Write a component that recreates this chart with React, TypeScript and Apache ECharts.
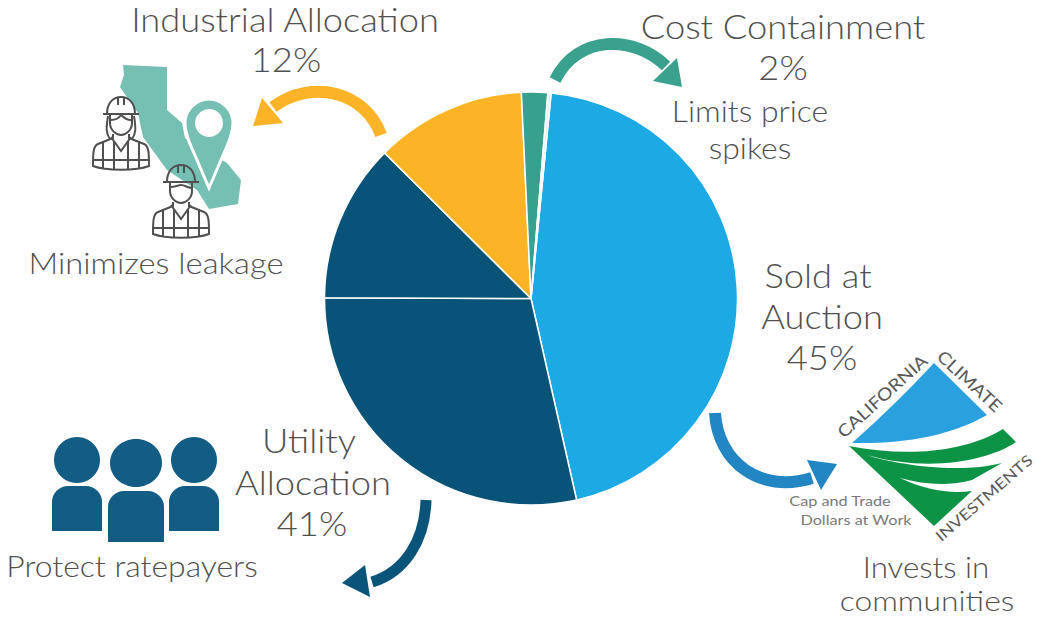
import React, { useEffect, useRef } from "react";
import * as echarts from "echarts";

// Data (percent of the circle, clockwise from the top of the Auction slice)
const sliceNames = ["Sold at Auction", "Utility Allocation A", "Utility Allocation B", "Industrial Allocation", "Cost Containment", "Other"];
const sliceValues = [44.9, 28.6, 12.4, 11.8, 2.05, 0.25];
const sliceColors = ["#1daae4", "#0a5378", "#0a5378", "#fbb425", "#37a08f", "#e6eef2"];

const FONT = "Lato";
const INK = "#505050";

const shapes: Record<string, string> = {
  california:
    "M123,65 L167,67 L167,110 L182,123 L185,138 L227,163 L241,180 L238,204 L209,209 L197,190 L167,170 L143,137 L138,113 L120,87 L124,75 Z",
  pin: "M209,99 C222,99 233,110 233,123 C233,135 228,144 224,153 L209,188 L194,153 C190,144 185,135 185,123 C185,110 196,99 209,99 Z",
  arrowY: "M381,135 C366,92 312,78 273,107",
  arrowT: "M555,80 C578,34 634,35 666,66",
  arrowB: "M715,413 C718,462 760,494 812,478",
  arrowD: "M426,500 C425,540 405,572 372,582",
  logoBlue: "M934,363 L987,415 C950,436 905,444 852,443 Q895,405 934,363 Z",
  logoGreen1:
    "M849,446 C900,456 960,455 1003,429 L1016,442 C990,460 930,473 867,455 C890,463 955,475 1002,463 L972,480 C950,486 925,485 900,478 C925,490 950,494 972,491 L934,526 Z",
  worker:
    "M-18,0 L18,0 M-14,0 C-14,-11 -8,-17 0,-17 C8,-17 14,-11 14,0 M-3,-17 L-3,-9 M3,-17 L3,-9 M-11,0 L-11,9 C-11,16 -5,21 0,21 C5,21 11,16 11,9 L11,0 M-8,20 L-8,24 L-23,30 C-28,32 -28,40 -28,52 C-15,57 15,57 28,52 C28,40 28,32 23,30 L8,24 L8,20 M-18,27 L-18,54 M18,27 L18,54 M-10,23 L0,37 L10,23 M-7,27 L-7,55 M7,27 L7,55 M-28,46 L28,46",
  hairMale: "M-11,5 C-5,5 -3,3 0,3 C4,3 7,6 11,6",
  hairFemale: "M-10,6 C-5,6 -2,4 0,1 C3,4 6,6 10,6 M-13,2 C-15,14 -15,20 -11,25 M13,2 C15,14 15,20 11,25",
};
Object.entries(shapes).forEach(([name, d]) => {
  echarts.graphic.registerShape(name, echarts.graphic.extendPath(d, {}));
});

const txt = (text: string, x: number, y: number, size = 33, color = INK, extra: any = {}) => {
  const { style, scaleX = 1.1, ...rest } = extra;
  return {
    type: "text",
    x,
    y,
    scaleX,
    silent: true,
    ...rest,
    style: { text, fontFamily: FONT, fontWeight: 300, fontSize: size, fill: color, align: "center", verticalAlign: "middle", ...(style || {}) },
  };
};

const arc = (type: string, color: string, width = 12) => ({
  type,
  x: 0,
  y: 0,
  style: { fill: "none", stroke: color, lineWidth: width },
});
const head = (pts: number[][], color: string) => ({ type: "polygon", shape: { points: pts }, style: { fill: color } });
const circle = (cx: number, cy: number, r: number, fill: string) => ({ type: "circle", shape: { cx, cy, r }, style: { fill } });
const body = (x: number, y: number, width: number, height: number) => ({
  type: "rect",
  shape: { x, y, width, height, r: [16, 16, 0, 0] },
  style: { fill: "#135d84" },
});
const stroke = (type: string, x: number, y: number) => ({ type, x, y, style: { fill: "none", stroke: "#505050", lineWidth: 2 } });

const graphics: any[] = [
  txt("Industrial Allocation", 285, 19),
  txt("12%", 286, 59),
  txt("Cost Containment", 783, 26),
  txt("2%", 783, 67),
  txt("Limits price", 750, 111, 29),
  txt("spikes", 750, 148, 29),
  txt("Sold at", 818, 275),
  txt("Auction", 822, 316),
  txt("45%", 822, 357),
  txt("Utility", 309, 440),
  txt("Allocation", 313, 482),
  txt("41%", 312, 523),
  txt("Protect ratepayers", 132, 566, 29),
  txt("Minimizes leakage", 156, 263, 29, INK, { scaleX: 1.13 }),
  txt("Invests in", 926, 566, 29, INK, { scaleX: 1.08 }),
  txt("communities", 927, 600, 27, INK, { scaleX: 1.18 }),
  // Arrows
  arc("arrowY", "#fbb427"),
  head([[262, 98], [283, 123], [253, 126]], "#fbb427"),
  arc("arrowT", "#3aa18e"),
  head([[677, 58], [682, 87], [653, 81]], "#3aa18e"),
  arc("arrowB", "#2286c3"),
  head([[807, 460], [837, 464], [821, 490]], "#2286c3"),
  arc("arrowD", "#0b5479", 11),
  head([[365, 565], [370, 597], [342, 583]], "#0b5479"),
  // California with pin and workers
  { type: "california", x: 0, y: 0, style: { fill: "#76bfb3" } },
  { type: "pin", x: 0, y: 0, style: { fill: "#76bfb3", stroke: "#fff", lineWidth: 3 } },
  circle(209, 123, 14, "#fff"),
  stroke("worker", 121, 114),
  stroke("hairFemale", 121, 114),
  stroke("worker", 181, 182),
  stroke("hairMale", 181, 182),
  // Ratepayers
  circle(77, 460, 23, "#135d84"),
  { type: "ellipse", shape: { cx: 136, cy: 463, rx: 26, ry: 24 }, style: { fill: "#135d84" } },
  circle(194, 460, 23, "#135d84"),
  body(52, 486, 50, 45),
  body(108, 491, 56, 51),
  body(169, 486, 50, 45),
  // Climate investments logo
  { type: "logoBlue", x: 0, y: 0, style: { fill: "#2aa0de" } },
  { type: "logoGreen1", x: 0, y: 0, style: { fill: "#0d9345" } },
  txt("CALIFORNIA", 882, 396, 17, "#58595b", { scaleX: 1.15, rotation: (42 * Math.PI) / 180, style: { fontWeight: 400 } }),
  txt("CLIMATE", 970, 381, 17, "#58595b", { scaleX: 1.15, rotation: (-43 * Math.PI) / 180, style: { fontWeight: 400 } }),
  txt("INVESTMENTS", 984, 498, 15, "#58595b", { scaleX: 1.2, rotation: (41 * Math.PI) / 180, style: { fontWeight: 400 } }),
  txt("Cap and Trade", 840, 501, 13, "#7a7a7a", { scaleX: 1.25, style: { fontWeight: 400 } }),
  txt("Dollars at Work", 856, 520, 13, "#7a7a7a", { scaleX: 1.25, style: { fontWeight: 400 } }),
];

export default function App() {
  const ref = useRef<HTMLDivElement>(null);
  useEffect(() => {
    const chart = echarts.init(ref.current!, undefined, { renderer: "svg" });
    chart.setOption({
      animation: false,
      backgroundColor: "#fff",
      series: [
        {
          type: "pie",
          center: [531, 298.5],
          radius: [0, 206.5],
          startAngle: 84.4,
          clockwise: true,
          silent: true,
          label: { show: false },
          labelLine: { show: false },
          itemStyle: { borderColor: "#fff", borderWidth: 1.5 },
          data: sliceNames.map((name, i) => ({ name, value: sliceValues[i], itemStyle: { color: sliceColors[i] } })),
        },
      ],
      graphic: graphics,
    });
    return () => chart.dispose();
  }, []);
  return <div ref={ref} style={{ position: "fixed", left: 0, top: 0, width: 1037, height: 617 }} />;
}
